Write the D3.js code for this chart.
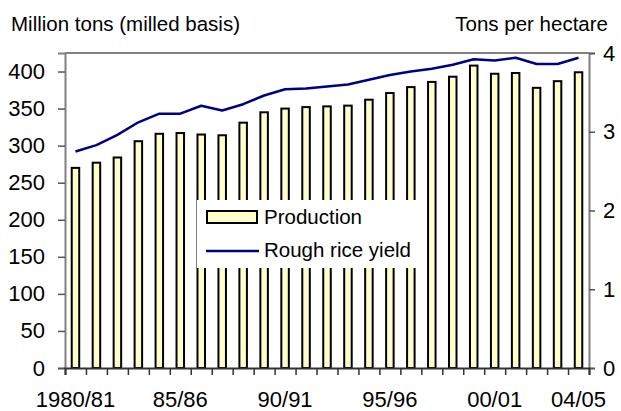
<!DOCTYPE html>
<html>
<head>
<meta charset="utf-8">
<script src="https://cdn.jsdelivr.net/npm/d3@7"></script>
<style>
  html, body { margin: 0; padding: 0; background: #fff; }
  svg { display: block; font-family: "Liberation Sans", Arial, sans-serif; }
</style>
</head>
<body>
<svg id="chart" width="621" height="411"></svg>
<script>
const categories = ["1980/81","81/82","82/83","83/84","84/85","85/86","86/87","87/88","88/89","89/90",
  "90/91","91/92","92/93","93/94","94/95","95/96","96/97","97/98","98/99","99/00",
  "00/01","01/02","02/03","03/04","04/05"];
const production = [270, 277, 284, 306, 316, 317, 315, 314, 331, 345,
  350, 352, 353, 354, 362, 371, 379, 386, 393, 408,
  397, 398, 378, 387, 399];
const yieldValues = [2.75, 2.83, 2.96, 3.12, 3.23, 3.23, 3.33, 3.27, 3.35, 3.46,
  3.54, 3.55, 3.575, 3.60, 3.66, 3.72, 3.765, 3.80, 3.85, 3.92,
  3.905, 3.94, 3.86, 3.86, 3.94];
const shownLabels = ["1980/81","85/86","90/91","95/96","00/01","04/05"];
const leftTicks = [0,50,100,150,200,250,300,350,400];
const rightTicks = [0,1,2,3,4];
const leftTitle = "Million tons (milled basis)";
const rightTitle = "Tons per hectare";
const legendLabels = ["Production", "Rough rice yield"];

const svg = d3.select("#chart");
const m = {left: 65, right: 589, top: 53, bottom: 368};

const x = d3.scaleBand().domain(categories).range([m.left, m.right]).padding(0);
const xi = d3.scaleLinear().domain([0, categories.length]).range([m.left, m.right]);
const yL = d3.scaleLinear().domain([0, 425]).range([m.bottom, m.top]);
const yR = d3.scaleLinear().domain([0, 4]).range([m.bottom, m.top]);

// plot top border
svg.append("line").attr("x1", m.left).attr("x2", m.right).attr("y1", m.top).attr("y2", m.top)
  .attr("stroke", "#808080").attr("stroke-width", 2);

// bars
const bw = 7.5;
svg.append("g").selectAll("rect").data(production).join("rect")
  .attr("x", (d, i) => x(categories[i]) + x.bandwidth() / 2 - bw / 2)
  .attr("y", d => yL(d))
  .attr("width", bw)
  .attr("height", d => yL(0) - yL(d))
  .attr("fill", "#FFFFCC")
  .attr("stroke", "#000")
  .attr("stroke-width", 2);

// line
const line = d3.line()
  .x((d, i) => x(categories[i]) + x.bandwidth() / 2)
  .y(d => yR(d));
svg.append("path").datum(yieldValues)
  .attr("d", line).attr("fill", "none")
  .attr("stroke", "#000080").attr("stroke-width", 2.5).attr("stroke-linejoin", "round");

// axes
const gL = svg.append("g").attr("transform", `translate(${m.left},0)`)
  .call(d3.axisLeft(yL).tickValues(leftTicks).tickSize(7).tickPadding(13));
const gR = svg.append("g").attr("transform", `translate(${m.right},0)`)
  .call(d3.axisRight(yR).tickValues(rightTicks).tickFormat(d3.format("d")).tickSize(6).tickPadding(8));
const gBt = svg.append("g").attr("transform", `translate(0,${m.bottom})`)
  .call(d3.axisBottom(xi).tickValues(d3.range(categories.length + 1)).tickFormat("").tickSize(7));
const gBl = svg.append("g").attr("transform", `translate(0,${m.bottom})`)
  .call(d3.axisBottom(x).tickValues(shownLabels).tickSize(0).tickPadding(23));

[gL, gR].forEach(g => {
  g.select(".domain").attr("stroke", "#808080").attr("stroke-width", 2);
  g.selectAll(".tick line").attr("stroke", "#555").attr("stroke-width", 1.5);
});
gBt.select(".domain").attr("stroke", "#333").attr("stroke-width", 2);
gBt.selectAll(".tick line").attr("stroke", "#333").attr("stroke-width", 1.5);
gBl.select(".domain").remove();
[gL, gR, gBl].forEach(g => g.selectAll("text")
  .attr("font-size", 22).attr("fill", "#000")
  .attr("font-family", "'Liberation Sans', Arial, sans-serif"));

// titles
svg.append("text").attr("x", 11).attr("y", 30.5).attr("font-size", 20.5).text(leftTitle);
svg.append("text").attr("x", 608).attr("y", 30.5).attr("font-size", 20.5)
  .attr("text-anchor", "end").text(rightTitle);

// legend
const lg = svg.append("g");
lg.append("rect").attr("x", 197).attr("y", 200).attr("width", 225).attr("height", 68).attr("fill", "#fff");
lg.append("rect").attr("x", 207).attr("y", 211).attr("width", 50).attr("height", 12)
  .attr("fill", "#FFFFCC").attr("stroke", "#000").attr("stroke-width", 2);
lg.append("text").attr("x", 264).attr("y", 224).attr("font-size", 20.5).text(legendLabels[0]);
lg.append("line").attr("x1", 206).attr("x2", 259).attr("y1", 251).attr("y2", 251)
  .attr("stroke", "#000080").attr("stroke-width", 2.5);
lg.append("text").attr("x", 264).attr("y", 257).attr("font-size", 20.5).text(legendLabels[1]);
</script>
</body>
</html>
